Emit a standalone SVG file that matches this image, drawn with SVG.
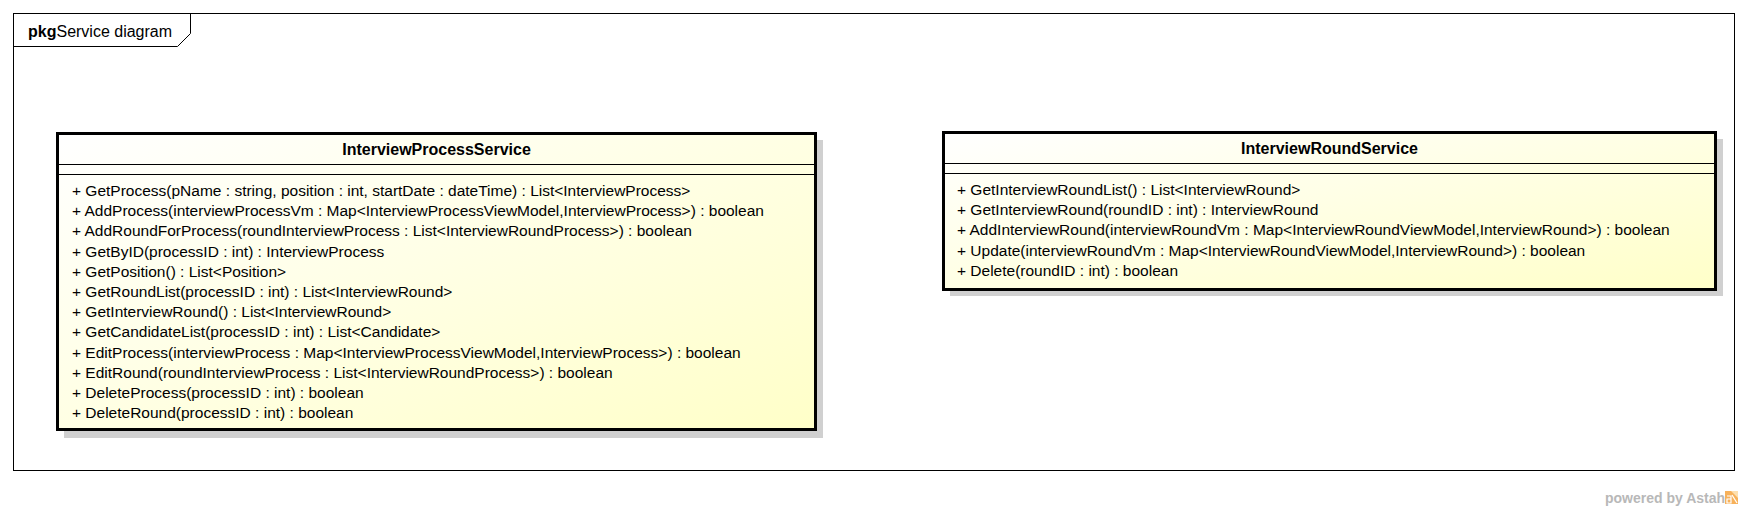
<svg xmlns="http://www.w3.org/2000/svg" width="1749" height="510" viewBox="0 0 1749 510">
<style>
  text { font-family: "Liberation Sans", Arial, sans-serif; fill: #000; }
  .m { font-size: 15.5px; }
  .h { font-size: 16px; font-weight: bold; text-anchor: middle; }
  .box { stroke: #000; stroke-width: 3; fill: url(#cls); }
  .sh { fill: #d0d0d0; }
  .sep { stroke: #000; stroke-width: 1; }
  .frame { fill: none; stroke: #000; stroke-width: 1; }
  .wm { font-size: 14px; font-weight: bold; fill: #b8b8b8; }
</style>
<defs>
  <linearGradient id="cls" x1="0" y1="0" x2="1" y2="1">
    <stop offset="0" stop-color="#ffffff"/>
    <stop offset="1" stop-color="#ffffc8"/>
  </linearGradient>
</defs>
<rect width="1749" height="510" fill="#fff"/>
<g id="frame">
  <rect class="frame" x="13.5" y="13.5" width="1721" height="457"/>
  <polyline class="frame" points="13.5,46.5 177.5,46.5 190.5,33.5 190.5,13.5"/>
  <text x="28" y="37" font-size="16"><tspan font-weight="bold">pkg</tspan>Service diagram</text>
</g>
<g id="InterviewProcessService">
  <rect class="sh" x="64" y="140" width="759" height="298"/>
  <rect class="box" x="57.5" y="133.5" width="758" height="296"/>
  <line class="sep" x1="57.5" y1="164.5" x2="815.5" y2="164.5"/>
  <line class="sep" x1="57.5" y1="174.5" x2="815.5" y2="174.5"/>
  <text class="h" x="436.5" y="155">InterviewProcessService</text>
  <text class="m" x="72" y="196">+ GetProcess(pName : string, position : int, startDate : dateTime) : List&lt;InterviewProcess&gt;</text>
  <text class="m" x="72" y="216.2">+ AddProcess(interviewProcessVm : Map&lt;InterviewProcessViewModel,InterviewProcess&gt;) : boolean</text>
  <text class="m" x="72" y="236.4">+ AddRoundForProcess(roundInterviewProcess : List&lt;InterviewRoundProcess&gt;) : boolean</text>
  <text class="m" x="72" y="256.6">+ GetByID(processID : int) : InterviewProcess</text>
  <text class="m" x="72" y="276.8">+ GetPosition() : List&lt;Position&gt;</text>
  <text class="m" x="72" y="297">+ GetRoundList(processID : int) : List&lt;InterviewRound&gt;</text>
  <text class="m" x="72" y="317.2">+ GetInterviewRound() : List&lt;InterviewRound&gt;</text>
  <text class="m" x="72" y="337.4">+ GetCandidateList(processID : int) : List&lt;Candidate&gt;</text>
  <text class="m" x="72" y="357.6">+ EditProcess(interviewProcess : Map&lt;InterviewProcessViewModel,InterviewProcess&gt;) : boolean</text>
  <text class="m" x="72" y="377.8">+ EditRound(roundInterviewProcess : List&lt;InterviewRoundProcess&gt;) : boolean</text>
  <text class="m" x="72" y="398">+ DeleteProcess(processID : int) : boolean</text>
  <text class="m" x="72" y="418.2">+ DeleteRound(processID : int) : boolean</text>
</g>
<g id="InterviewRoundService">
  <rect class="sh" x="950" y="139" width="773" height="157"/>
  <rect class="box" x="943.5" y="132.5" width="772" height="157"/>
  <line class="sep" x1="943.5" y1="163.5" x2="1715.5" y2="163.5"/>
  <line class="sep" x1="943.5" y1="173.5" x2="1715.5" y2="173.5"/>
  <text class="h" x="1329.5" y="154">InterviewRoundService</text>
  <text class="m" x="957" y="195">+ GetInterviewRoundList() : List&lt;InterviewRound&gt;</text>
  <text class="m" x="957" y="215.2">+ GetInterviewRound(roundID : int) : InterviewRound</text>
  <text class="m" x="957" y="235.4">+ AddInterviewRound(interviewRoundVm : Map&lt;InterviewRoundViewModel,InterviewRound&gt;) : boolean</text>
  <text class="m" x="957" y="255.6">+ Update(interviewRoundVm : Map&lt;InterviewRoundViewModel,InterviewRound&gt;) : boolean</text>
  <text class="m" x="957" y="275.8">+ Delete(roundID : int) : boolean</text>
</g>
<g id="connectors"></g>
<g id="watermark">
  <text class="wm" x="1605" y="503">powered by Astah</text>
  <rect x="1725" y="491" width="13" height="13" fill="#f7b15a"/>
  <polygon points="1731,491 1738,491 1738,498" fill="#fde0b0"/>
  <polyline points="1727,496 1731,496 1731,503 1727,503 1727,499 1731,499" fill="none" stroke="#fff" stroke-width="1.2"/>
  <line x1="1732" y1="495" x2="1737" y2="503" stroke="#fff" stroke-width="1.2"/>
</g>
</svg>
